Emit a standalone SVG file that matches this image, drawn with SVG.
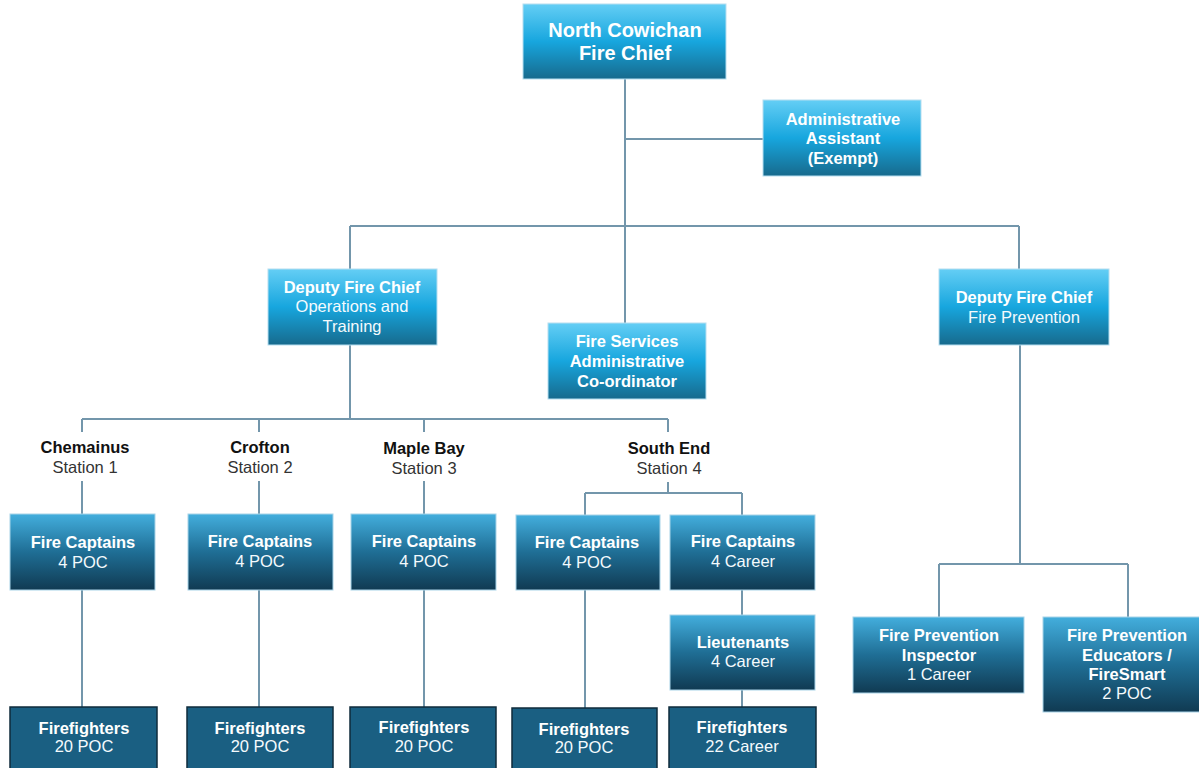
<svg xmlns="http://www.w3.org/2000/svg" width="1199" height="768" viewBox="0 0 1199 768">
<defs>
<linearGradient id="gTop" x1="0" y1="0" x2="0" y2="1">
<stop offset="0" stop-color="#64cef5"/>
<stop offset="0.5" stop-color="#17a6de"/>
<stop offset="1" stop-color="#176a8d"/>
</linearGradient>
<linearGradient id="gCap" x1="0" y1="0" x2="0" y2="1">
<stop offset="0" stop-color="#43aedd"/>
<stop offset="0.5" stop-color="#1f6e95"/>
<stop offset="1" stop-color="#103a52"/>
</linearGradient>
<style>
.top{fill:url(#gTop);stroke:#b5def0;stroke-width:1}
.cap{fill:url(#gCap);stroke:#a8d3e8;stroke-width:1}
.ff{fill:#1a5f82;stroke:#0f2b3b;stroke-width:1.5}
text{font-family:"Liberation Sans",Arial,sans-serif;text-anchor:middle}
.w{fill:#f4fafd;font-size:16.5px}
.wb{fill:#ffffff;font-size:16.5px;font-weight:bold}
.big{fill:#ffffff;font-size:20px;font-weight:bold}
.sb{fill:#111111;font-size:16.5px;font-weight:bold}
.s{fill:#333333;font-size:16.5px}
.ln{stroke:#7396ab;stroke-width:2;fill:none}
</style>
</defs>
<rect width="1199" height="768" fill="#ffffff"/>
<g id="connectors" class="ln">
<path d="M625 79V323"/>
<path d="M625 139H763"/>
<path d="M350 226H1019"/>
<path d="M350 226V269"/>
<path d="M1019 226V269"/>
<path d="M350 345V419"/>
<path d="M82 419H668"/>
<path d="M82 419V432"/>
<path d="M259 419V432"/>
<path d="M424 419V432"/>
<path d="M668 419V432"/>
<path d="M82 481V514"/>
<path d="M259 481V514"/>
<path d="M424 481V514"/>
<path d="M668 482V493"/>
<path d="M585 493H742"/>
<path d="M585 493V515"/>
<path d="M742 493V515"/>
<path d="M82 590V707"/>
<path d="M259 590V707"/>
<path d="M424 590V707"/>
<path d="M585 590V708"/>
<path d="M742 590V615"/>
<path d="M742 690V707"/>
<path d="M1020 345V564"/>
<path d="M939 564H1128"/>
<path d="M939 564V617"/>
<path d="M1128 564V617"/>
</g>
<g id="n-chief">
<rect class="top" x="523" y="4" width="203" height="75"/>
<text class="big" x="625" y="37">North Cowichan</text>
<text class="big" x="625" y="60">Fire Chief</text>
</g>
<g id="n-admin-assistant">
<rect class="top" x="763" y="100" width="158" height="76"/>
<text class="wb" x="843" y="125">Administrative</text>
<text class="wb" x="843" y="144">Assistant</text>
<text class="wb" x="843" y="164">(Exempt)</text>
</g>
<g id="n-deputy-ops">
<rect class="top" x="268" y="269" width="169" height="76"/>
<text class="wb" x="352" y="293">Deputy Fire Chief</text>
<text class="w" x="352" y="312">Operations and</text>
<text class="w" x="352" y="332">Training</text>
</g>
<g id="n-fs-admin">
<rect class="top" x="548" y="323" width="158" height="76"/>
<text class="wb" x="627" y="347">Fire Services</text>
<text class="wb" x="627" y="367">Administrative</text>
<text class="wb" x="627" y="387">Co-ordinator</text>
</g>
<g id="n-deputy-prev">
<rect class="top" x="939" y="269" width="170" height="76"/>
<text class="wb" x="1024" y="303">Deputy Fire Chief</text>
<text class="w" x="1024" y="323">Fire Prevention</text>
</g>
<g id="n-station1">
<text class="sb" x="85" y="453">Chemainus</text>
<text class="s" x="85" y="473">Station 1</text>
</g>
<g id="n-station2">
<text class="sb" x="260" y="453">Crofton</text>
<text class="s" x="260" y="473">Station 2</text>
</g>
<g id="n-station3">
<text class="sb" x="424" y="454">Maple Bay</text>
<text class="s" x="424" y="474">Station 3</text>
</g>
<g id="n-station4">
<text class="sb" x="669" y="454">South End</text>
<text class="s" x="669" y="474">Station 4</text>
</g>
<g id="n-cap1">
<rect class="cap" x="10" y="514" width="145" height="76"/>
<text class="wb" x="83" y="548">Fire Captains</text>
<text class="w" x="83" y="568">4 POC</text>
</g>
<g id="n-cap2">
<rect class="cap" x="188" y="514" width="145" height="76"/>
<text class="wb" x="260" y="547">Fire Captains</text>
<text class="w" x="260" y="567">4 POC</text>
</g>
<g id="n-cap3">
<rect class="cap" x="351" y="514" width="145" height="76"/>
<text class="wb" x="424" y="547">Fire Captains</text>
<text class="w" x="424" y="567">4 POC</text>
</g>
<g id="n-cap4-poc">
<rect class="cap" x="516" y="515" width="144" height="75"/>
<text class="wb" x="587" y="548">Fire Captains</text>
<text class="w" x="587" y="568">4 POC</text>
</g>
<g id="n-cap4-career">
<rect class="cap" x="670" y="515" width="145" height="75"/>
<text class="wb" x="743" y="547">Fire Captains</text>
<text class="w" x="743" y="567">4 Career</text>
</g>
<g id="n-lieutenants">
<rect class="cap" x="670" y="615" width="145" height="75"/>
<text class="wb" x="743" y="648">Lieutenants</text>
<text class="w" x="743" y="667">4 Career</text>
</g>
<g id="n-ff1">
<rect class="ff" x="10" y="707" width="147" height="62"/>
<text class="wb" x="84" y="734">Firefighters</text>
<text class="w" x="84" y="752">20 POC</text>
</g>
<g id="n-ff2">
<rect class="ff" x="187" y="707" width="146" height="62"/>
<text class="wb" x="260" y="734">Firefighters</text>
<text class="w" x="260" y="752">20 POC</text>
</g>
<g id="n-ff3">
<rect class="ff" x="350" y="707" width="146" height="62"/>
<text class="wb" x="424" y="733">Firefighters</text>
<text class="w" x="424" y="752">20 POC</text>
</g>
<g id="n-ff4-poc">
<rect class="ff" x="512" y="708" width="145" height="61"/>
<text class="wb" x="584" y="735">Firefighters</text>
<text class="w" x="584" y="753">20 POC</text>
</g>
<g id="n-ff4-career">
<rect class="ff" x="669" y="707" width="147" height="62"/>
<text class="wb" x="742" y="733">Firefighters</text>
<text class="w" x="742" y="752">22 Career</text>
</g>
<g id="n-inspector">
<rect class="cap" x="853" y="617" width="171" height="76"/>
<text class="wb" x="939" y="641">Fire Prevention</text>
<text class="wb" x="939" y="661">Inspector</text>
<text class="w" x="939" y="680">1 Career</text>
</g>
<g id="n-educators">
<rect class="cap" x="1043" y="617" width="160" height="95"/>
<text class="wb" x="1127" y="641">Fire Prevention</text>
<text class="wb" x="1127" y="661">Educators /</text>
<text class="wb" x="1127" y="680">FireSmart</text>
<text class="w" x="1127" y="699">2 POC</text>
</g>
</svg>
